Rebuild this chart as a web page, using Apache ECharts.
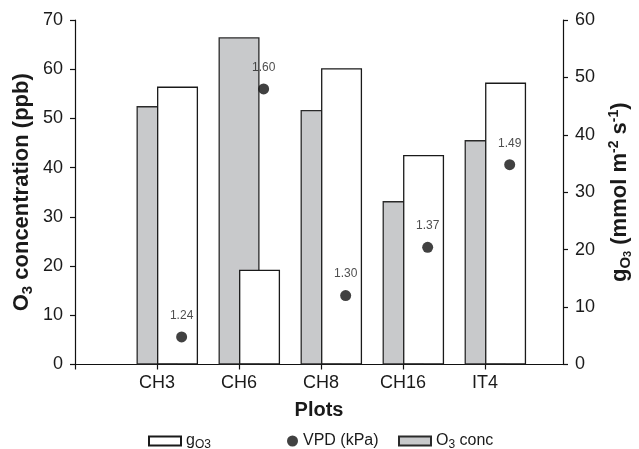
<!DOCTYPE html>
<html>
<head>
<meta charset="utf-8">
<script src="https://cdn.jsdelivr.net/npm/echarts@6/dist/echarts.min.js"></script>
<style>
  html, body { margin: 0; padding: 0; background: #fff; }
  #chart { width: 639px; height: 449px; }
</style>
</head>
<body>
<div id="chart"></div>
<script>
// Plots sampled
const plots = ['CH3', 'CH6', 'CH8', 'CH16', 'IT4'];
// Mean O3 concentration (ppb), left axis
const o3Conc = [52.5, 66.5, 51.7, 33.2, 45.6];
// Stomatal O3 conductance gO3 (mmol m-2 s-1), right axis
const gO3 = [48.4, 16.5, 51.6, 36.5, 49.1];
// Vapour pressure deficit (kPa)
const vpd = [1.24, 1.60, 1.30, 1.37, 1.49];
// Axis ticks
const leftTicks = { min: 0, max: 70, step: 10 };
const rightTicks = { min: 0, max: 60, step: 10 };

// Layout: each plot sits at an integer x position; the gO3 bar and VPD
// point are shifted to the right of the O3 bar.
const G_SHIFT = 0.25;
const VPD_SHIFT = 0.3;
const BAR_W = 41;

const FONT = '"Liberation Sans", Arial, sans-serif';
const INK = '#1a1a1a';
const TICK_FONT = 18;

const chart = echarts.init(document.getElementById('chart'), null, { renderer: 'canvas' });

const titleRich = {
  b: { fontSize: 22, fontWeight: 'bold', fontFamily: FONT, color: INK, lineHeight: 26 },
  sub: { fontSize: 15, fontWeight: 'bold', fontFamily: FONT, color: INK, lineHeight: 15, verticalAlign: 'bottom' },
  sup: { fontSize: 14, fontWeight: 'bold', fontFamily: FONT, color: INK, lineHeight: 14, verticalAlign: 'top' },
  subsub: { fontSize: 11, fontWeight: 'bold', fontFamily: FONT, color: INK, lineHeight: 8, verticalAlign: 'bottom' }
};

const legendRich = {
  t: { fontSize: 16, fontFamily: FONT, color: INK, lineHeight: 20 },
  s: { fontSize: 12, fontFamily: FONT, color: INK, lineHeight: 12, verticalAlign: 'bottom' }
};

const axisLineStyle = { color: '#111', width: 1.2 };

const option = {
  backgroundColor: '#fff',
  animation: false,
  grid: { left: 75, right: 76, top: 20, bottom: 84.5, containLabel: false, outerBoundsMode: 'none' },
  legend: [
    {
      data: [{ name: 'gO3', icon: 'rect' }],
      left: 148, top: 433, padding: 0, itemWidth: 32, itemHeight: 9, itemGap: 8,
      formatter: () => '{t|g}{s|O3}',
      textStyle: { rich: legendRich }
    },
    {
      data: [{ name: 'VPD (kPa)', icon: 'circle' }],
      left: 287, top: 433, padding: 0, itemWidth: 11, itemHeight: 11,
      textStyle: { fontSize: 16, fontFamily: FONT, color: INK }
    },
    {
      data: [{ name: 'O3 conc', icon: 'rect' }],
      left: 398, top: 433, padding: 0, itemWidth: 32, itemHeight: 9,
      formatter: () => '{t|O}{s|3}{t| conc}',
      textStyle: { rich: legendRich }
    }
  ],
  xAxis: {
    type: 'value',
    min: 0,
    max: 5.95,
    interval: 1,
    name: 'Plots',
    nameLocation: 'middle',
    nameGap: 36,
    nameTextStyle: { fontSize: 20, fontWeight: 'bold', fontFamily: FONT, color: INK },
    axisLine: { show: true, lineStyle: axisLineStyle },
    axisTick: { show: true, length: 5, lineStyle: axisLineStyle },
    axisLabel: {
      margin: 10,
      fontSize: TICK_FONT,
      fontFamily: FONT,
      color: INK,
      showMaxLabel: false,
      formatter: v => (Number.isInteger(v) && v >= 1 && v <= plots.length) ? plots[v - 1] : ''
    },
    splitLine: { show: false }
  },
  yAxis: [
    {
      type: 'value',
      min: leftTicks.min, max: leftTicks.max, interval: leftTicks.step,
      position: 'left',
      name: '{b|O}{sub|3}{b| concentration (ppb)}',
      nameLocation: 'middle',
      nameRotate: 90,
      nameGap: 40,
      nameMoveOverlap: false,
      nameTextStyle: { rich: titleRich },
      axisLine: { show: true, lineStyle: axisLineStyle },
      axisTick: { show: true, length: 5, lineStyle: axisLineStyle },
      axisLabel: { margin: 12, fontSize: TICK_FONT, fontFamily: FONT, color: INK },
      splitLine: { show: false }
    },
    {
      type: 'value',
      min: rightTicks.min, max: rightTicks.max, interval: rightTicks.step,
      position: 'right',
      name: '{b|g}{sub|O}{subsub|3}{b| (mmol m}{sup|-2}{b| s}{sup|-1}{b|)}',
      nameLocation: 'middle',
      nameRotate: 90,
      nameGap: 44,
      nameMoveOverlap: false,
      nameTextStyle: { rich: titleRich },
      axisLine: { show: true, lineStyle: axisLineStyle },
      axisTick: { show: true, length: 5, lineStyle: axisLineStyle },
      axisLabel: { margin: 12, fontSize: TICK_FONT, fontFamily: FONT, color: INK },
      splitLine: { show: false }
    },
    {
      // VPD scale (not drawn)
      type: 'value',
      min: 1.2, max: 1.7,
      show: false,
      splitLine: { show: false }
    }
  ],
  series: [
    {
      name: 'O3 conc',
      type: 'bar',
      yAxisIndex: 0,
      barWidth: BAR_W,
      barGap: '-100%',
      itemStyle: { color: '#c8c9cb', borderColor: '#2a2a2a', borderWidth: 1.3 },
      data: o3Conc.map((v, i) => [i + 1, v])
    },
    {
      name: 'gO3',
      type: 'bar',
      yAxisIndex: 1,
      barWidth: BAR_W,
      barGap: '-100%',
      itemStyle: { color: '#ffffff', borderColor: '#1a1a1a', borderWidth: 1.3 },
      data: gO3.map((v, i) => [i + 1 + G_SHIFT, v])
    },
    {
      name: 'VPD (kPa)',
      type: 'scatter',
      yAxisIndex: 2,
      symbol: 'circle',
      symbolSize: 11,
      itemStyle: { color: '#111' },
      label: {
        show: true,
        position: 'top',
        distance: 10,
        fontSize: 12,
        fontFamily: FONT,
        color: '#222',
        formatter: p => p.value[1].toFixed(2)
      },
      data: vpd.map((v, i) => [i + 1 + VPD_SHIFT, v])
    }
  ]
};

chart.setOption(option);
</script>
</body>
</html>
